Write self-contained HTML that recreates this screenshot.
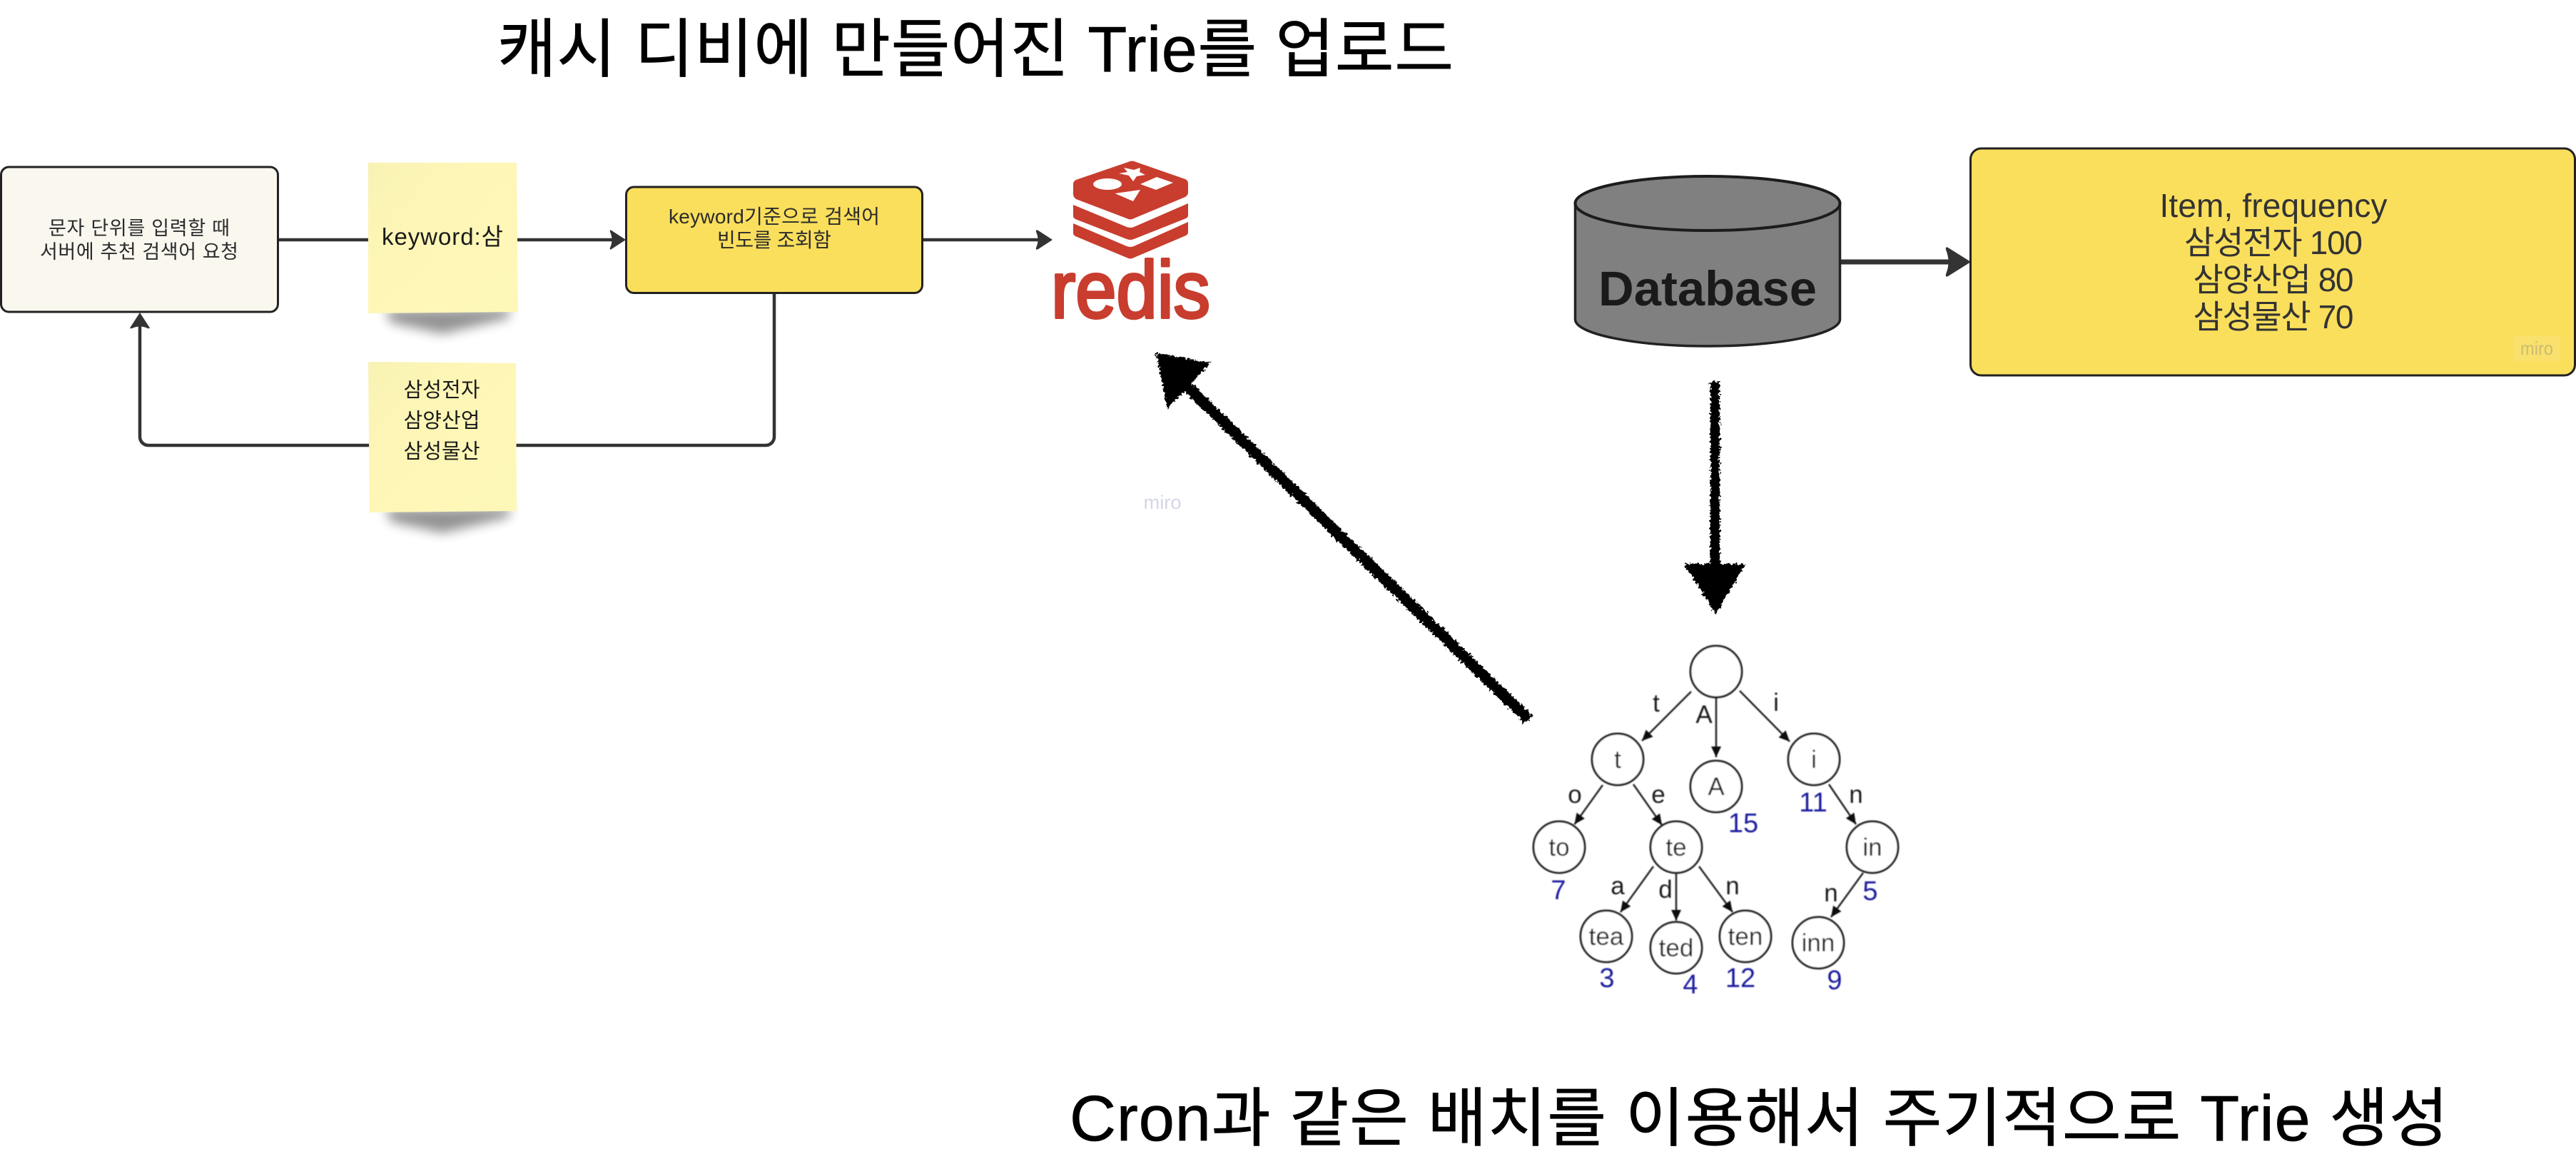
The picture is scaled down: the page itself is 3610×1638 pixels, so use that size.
<!DOCTYPE html>
<html lang="ko">
<head>
<meta charset="utf-8">
<title>Trie diagram</title>
<style>
html,body{margin:0;padding:0;background:#fff;width:3610px;height:1638px;overflow:hidden}
svg{display:block}
text{font-family:"Liberation Sans","Noto Sans CJK KR",sans-serif}
</style>
</head>
<body>
<svg xmlns="http://www.w3.org/2000/svg" width="3610" height="1638" viewBox="0 0 3610 1638">
<defs>
  <filter id="rough" x="-20%" y="-20%" width="140%" height="140%" filterUnits="objectBoundingBox">
    <feTurbulence type="fractalNoise" baseFrequency="0.28" numOctaves="2" seed="4" result="n"/>
    <feDisplacementMap in="SourceGraphic" in2="n" scale="9" xChannelSelector="R" yChannelSelector="G"/>
  </filter>
  <filter id="soft" x="-5%" y="-5%" width="110%" height="110%"><feGaussianBlur stdDeviation="0.7"/></filter>
  <filter id="sh" x="-30%" y="-100%" width="160%" height="400%"><feGaussianBlur stdDeviation="8"/></filter>
  <linearGradient id="st" x1="0" y1="0" x2="1" y2="1">
    <stop offset="0" stop-color="#f8f2b4"/><stop offset=".35" stop-color="#fdf6b6"/><stop offset="1" stop-color="#fef8b8"/>
  </linearGradient>
  <marker id="tm" markerUnits="userSpaceOnUse" markerWidth="18" markerHeight="16" refX="15" refY="7" orient="auto">
    <path d="M0 0L15 7L0 14Z" fill="#111"/>
  </marker>
</defs>

<rect width="3610" height="1638" fill="#fff"/>

<!-- Titles -->
<text x="697" y="100" font-size="90" fill="#000" stroke="#000" stroke-width=".7" textLength="1340" lengthAdjust="spacing">캐시 디비에 만들어진 Trie를 업로드</text>
<text x="1499" y="1598" font-size="90" fill="#000" stroke="#000" stroke-width=".7" textLength="1932" lengthAdjust="spacing">Cron과 같은 배치를 이용해서 주기적으로 Trie 생성</text>

<!-- Connectors left -->
<g fill="none" stroke="#333" stroke-width="4.5">
  <path d="M390 336H860"/>
  <path d="M1293 336H1460"/>
  <path d="M1085 411V612a12 12 0 0 1-12 12H208a12 12 0 0 1-12-12V450"/>
</g>
<g fill="#333">
  <path d="M877 336L857 349Q854 351 855 347Q860 336 855 325Q854 321 857 323Z"/>
  <path d="M1475 336L1455 349Q1451 351 1452 347Q1457 336 1452 325Q1451 321 1455 323Z"/>
  <path d="M196 438L183 458Q181 461 185 460Q196 455 207 460Q211 461 209 458Z"/>
</g>

<!-- Box 1 -->
<rect x="1.5" y="234" width="388" height="203" rx="11" fill="#faf7ef" stroke="#222" stroke-width="3"/>
<text x="195" y="329" font-size="27" fill="#2b2b2b" text-anchor="middle" textLength="254" lengthAdjust="spacing">문자 단위를 입력할 때</text>
<text x="195" y="362" font-size="27" fill="#2b2b2b" text-anchor="middle" textLength="278" lengthAdjust="spacing">서버에 추천 검색어 요청</text>

<!-- Sticky 1 -->
<path d="M540 434L716 432L712 446L620 468L548 452Z" fill="#000" opacity=".42" filter="url(#sh)"/>
<path d="M516 228H724L726 437L516 439Z" fill="url(#st)"/>
<text x="620" y="343" font-size="33" fill="#1a1a1a" text-anchor="middle" textLength="170" lengthAdjust="spacing">keyword:삼</text>

<!-- Sticky 2 -->
<path d="M540 713L716 711L712 725L620 747L548 731Z" fill="#000" opacity=".42" filter="url(#sh)"/>
<path d="M516 507L723 509L724 716L518 718Z" fill="url(#st)"/>
<text x="619" y="556" font-size="29" fill="#1a1a1a" text-anchor="middle" textLength="107" lengthAdjust="spacing">삼성전자</text>
<text x="619" y="599" font-size="29" fill="#1a1a1a" text-anchor="middle" textLength="107" lengthAdjust="spacing">삼양산업</text>
<text x="619" y="642" font-size="29" fill="#1a1a1a" text-anchor="middle" textLength="107" lengthAdjust="spacing">삼성물산</text>

<!-- Box 2 -->
<rect x="877.5" y="262" width="415" height="148.500" rx="11" fill="#fadf5c" stroke="#222" stroke-width="3"/>
<text x="1085" y="313" font-size="28" fill="#2b2b2b" text-anchor="middle" textLength="296" lengthAdjust="spacing">keyword기준으로 검색어</text>
<text x="1085" y="346" font-size="28" fill="#2b2b2b" text-anchor="middle" textLength="160" lengthAdjust="spacing">빈도를 조회함</text>

<!-- Redis logo -->
<g fill="#c83d2e">
  <path d="M1581 227Q1586.500 224 1592 227L1661 251Q1665 253 1665 257V270Q1665 273 1661 276L1589 306Q1584 309 1579 306L1508 279Q1504 276 1504 272V258Q1504 254 1508 252Z"/>
  <path d="M1504 287L1579 318Q1584 320 1589 318L1665 285V302Q1665 304 1662 306L1589 335Q1584 337 1579 335L1507 307Q1504 305 1504 303Z"/>
  <path d="M1504 313L1579 345Q1584 347 1589 345L1665 311V326Q1665 328 1662 330L1589 361Q1584 364 1579 361L1507 331Q1504 329 1504 327Z"/>
</g>
<g fill="#fff">
  <path d="M1588 254L1593 247L1605 245L1597 241L1598 235L1589 238L1575 235L1580 241L1568 243L1582 246Z"/>
  <ellipse cx="1552" cy="258" rx="20" ry="8"/>
  <path d="M1621 248L1644 256L1620 266L1598 258Z"/>
  <path d="M1562.500 271L1598 266L1588 282Z"/>
</g>
<text x="1473" y="445" font-size="113" fill="#c83d2e" stroke="#c83d2e" stroke-width="4" stroke-linejoin="round" textLength="223" lengthAdjust="spacingAndGlyphs">redis</text>

<!-- miro watermark -->
<text x="1629" y="713" font-size="27" fill="#d4d6e6" text-anchor="middle" textLength="53" lengthAdjust="spacingAndGlyphs">miro</text>

<!-- Database cylinder -->
<path d="M2207.500 285V447.500C2207.500 468 2291 485 2393 485C2495 485 2578.500 468 2578.500 447.500V285Z" fill="#808080" stroke="#222" stroke-width="3.500"/>
<ellipse cx="2393" cy="285" rx="185.500" ry="38" fill="#808080" stroke="#1c1c1c" stroke-width="4"/>
<text x="2393" y="428" font-size="69" font-weight="bold" fill="#1a1a1a" text-anchor="middle" textLength="306" lengthAdjust="spacingAndGlyphs">Database</text>

<!-- DB arrow -->
<path d="M2580 367H2735" stroke="#333" stroke-width="7" fill="none"/>
<path d="M2762 367L2730 387Q2726 389 2727 384Q2734 367 2727 350Q2726 345 2730 347Z" fill="#333"/>

<!-- Box 3 -->
<rect x="2761.500" y="208" width="847" height="318" rx="15" fill="#fadf5c" stroke="#222" stroke-width="3"/>
<g font-size="46" fill="#333" text-anchor="middle">
  <text x="3186" y="304" textLength="319" lengthAdjust="spacing">Item, frequency</text>
  <text x="3186" y="356" textLength="250" lengthAdjust="spacing">삼성전자 100</text>
  <text x="3186" y="408" textLength="225" lengthAdjust="spacing">삼양산업 80</text>
  <text x="3186" y="460" textLength="225" lengthAdjust="spacing">삼성물산 70</text>
</g>
<rect x="3523" y="470" width="65" height="36" fill="#fae06c"/>
<text x="3555" y="497" font-size="26" fill="#c9bd74" text-anchor="middle" textLength="46" lengthAdjust="spacingAndGlyphs">miro</text>

<!-- Scribble arrows -->
<g fill="#000" filter="url(#rough)">
  <path d="M1660 527L2148 1003L2137 1014L1649 538Z"/>
  <path d="M1620 495L1697 508L1636 573Z"/>
</g>
<g fill="#000" filter="url(#rough)">
  <path d="M2397 535H2410V795H2397Z"/>
  <path d="M2360 790H2447L2404 860Z"/>
</g>

<!-- Trie -->
<g filter="url(#soft)">
  <g fill="none" stroke="#222" stroke-width="2.500">
    <path d="M2370 969L2301 1038" marker-end="url(#tm)"/>
    <path d="M2405 978V1061" marker-end="url(#tm)"/>
    <path d="M2438 968L2508 1039" marker-end="url(#tm)"/>
    <path d="M2246 1100L2206.500 1155" marker-end="url(#tm)"/>
    <path d="M2289 1099L2329 1156" marker-end="url(#tm)"/>
    <path d="M2317 1214L2271 1278" marker-end="url(#tm)"/>
    <path d="M2349 1223V1290" marker-end="url(#tm)"/>
    <path d="M2381 1214L2428 1278" marker-end="url(#tm)"/>
    <path d="M2563 1099L2601 1155" marker-end="url(#tm)"/>
    <path d="M2611 1223L2566 1285" marker-end="url(#tm)"/>
  </g>
  <g fill="#fff" stroke="#222" stroke-width="3">
    <circle cx="2405" cy="941" r="36"/>
    <circle cx="2267" cy="1064" r="36"/>
    <circle cx="2405" cy="1102" r="36"/>
    <circle cx="2542" cy="1064" r="36"/>
    <circle cx="2185" cy="1187" r="36"/>
    <circle cx="2349" cy="1187" r="36"/>
    <circle cx="2624" cy="1187" r="36"/>
    <circle cx="2251" cy="1312" r="36"/>
    <circle cx="2349" cy="1328" r="36"/>
    <circle cx="2446" cy="1312" r="36"/>
    <circle cx="2548" cy="1321" r="36"/>
  </g>
  <g font-size="35" fill="#1c1c1c" text-anchor="middle">
    <text x="2267" y="1076">t</text>
    <text x="2405" y="1114">A</text>
    <text x="2542" y="1076">i</text>
    <text x="2185" y="1199">to</text>
    <text x="2349" y="1199">te</text>
    <text x="2624" y="1199">in</text>
    <text x="2251" y="1324">tea</text>
    <text x="2349" y="1340">ted</text>
    <text x="2446" y="1324">ten</text>
    <text x="2548" y="1333">inn</text>
    <text x="2321" y="997">t</text>
    <text x="2388" y="1013">A</text>
    <text x="2489" y="996">i</text>
    <text x="2207" y="1125">o</text>
    <text x="2324" y="1125">e</text>
    <text x="2601" y="1125">n</text>
    <text x="2267" y="1253">a</text>
    <text x="2334" y="1258">d</text>
    <text x="2428" y="1253">n</text>
    <text x="2566" y="1263">n</text>
  </g>
  <g font-size="38" fill="#1a1a9e" text-anchor="middle">
    <text x="2184" y="1260">7</text>
    <text x="2443" y="1166">15</text>
    <text x="2541" y="1137">11</text>
    <text x="2621" y="1261">5</text>
    <text x="2252" y="1383">3</text>
    <text x="2369" y="1392">4</text>
    <text x="2439" y="1383">12</text>
    <text x="2571" y="1386">9</text>
  </g>
</g>
</svg>
</body>
</html>
